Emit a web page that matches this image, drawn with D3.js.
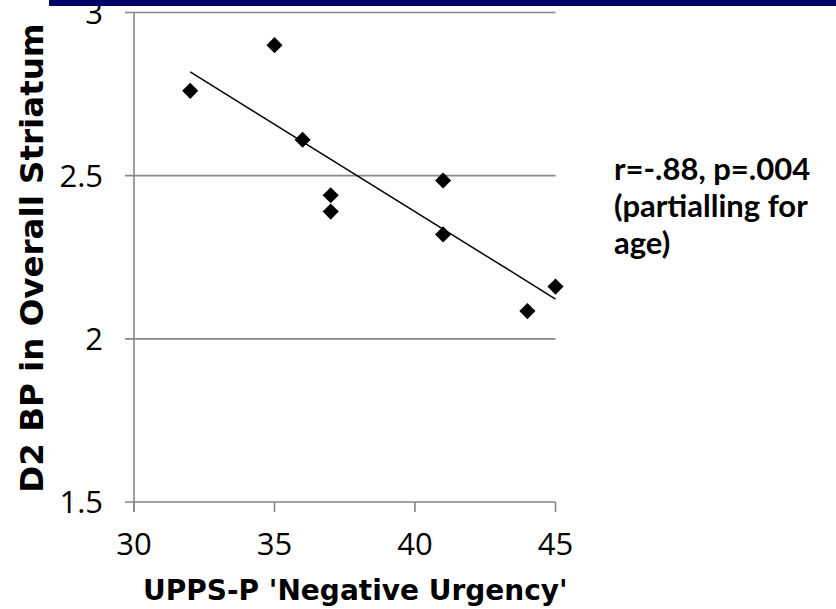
<!DOCTYPE html>
<html>
<head>
<meta charset="utf-8">
<script src="https://cdn.jsdelivr.net/npm/d3@7"></script>
<style>
  body { margin: 0; background: #fff; }
  svg { display: block; }
</style>
</head>
<body>
<div id="chart"></div>
<script>
var w = 836;
var h = 609;

// data
var urgency = [32, 35, 36, 37, 37, 41, 41, 44, 45];
var d2bp = [2.76, 2.90, 2.61, 2.44, 2.39, 2.485, 2.32, 2.085, 2.16];
var xTicks = [30, 35, 40, 45];
var yTicks = [1.5, 2, 2.5, 3];
var noteLines = ["r=-.88, p=.004", "(partialling for", "age)"];

// plot box (don't call it "top", that's window.top)
var plotLeft = 134, plotRight = 555.5, plotTop = 12.5, plotBottom = 502;

var x = d3.scaleLinear().domain([30, 45]).range([plotLeft, plotRight]);
var y = d3.scaleLinear().domain([1.5, 3]).range([plotBottom, plotTop]);

var svg = d3.select("#chart")
    .append("svg")
    .attr("width", w)
    .attr("height", h);

var gray = "#878787";

// horizontal gridlines (they stick out left as ticks)
svg.append("g")
    .selectAll("line")
    .data(yTicks)
    .join("line")
    .attr("x1", plotLeft - 9)
    .attr("x2", plotRight)
    .attr("y1", function(d) { return y(d); })
    .attr("y2", function(d) { return y(d); })
    .attr("stroke", gray)
    .attr("stroke-width", 1.6);

// x ticks below the axis
svg.append("g")
    .selectAll("line")
    .data(xTicks)
    .join("line")
    .attr("x1", function(d) { return x(d); })
    .attr("x2", function(d) { return x(d); })
    .attr("y1", plotBottom)
    .attr("y2", plotBottom + 10)
    .attr("stroke", gray)
    .attr("stroke-width", 1.6);

// y axis line
svg.append("line")
    .attr("x1", plotLeft).attr("x2", plotLeft)
    .attr("y1", plotTop).attr("y2", plotBottom + 10)
    .attr("stroke", gray)
    .attr("stroke-width", 1.6);

// tick labels
svg.append("g")
    .selectAll("text")
    .data(yTicks)
    .join("text")
    .attr("x", 103)
    .attr("y", function(d) { return y(d); })
    .attr("dy", "0.36em")
    .attr("text-anchor", "end")
    .style("font-family", "'Open Sans', sans-serif")
    .style("font-size", "31px")
    .attr("fill", "#000")
    .text(function(d) { return d; });

svg.append("g")
    .selectAll("text")
    .data(xTicks)
    .join("text")
    .attr("x", function(d) { return x(d); })
    .attr("y", 555)
    .attr("text-anchor", "middle")
    .style("font-family", "'Open Sans', sans-serif")
    .style("font-size", "31px")
    .attr("fill", "#000")
    .text(function(d) { return d; });

// least squares trend line
var mx = d3.mean(urgency), my = d3.mean(d2bp);
var sxy = d3.sum(urgency, function(d, i) { return (d - mx) * (d2bp[i] - my); });
var sxx = d3.sum(urgency, function(d) { return (d - mx) * (d - mx); });
var slope = sxy / sxx, icpt = my - slope * mx;
var ends = d3.extent(urgency);

svg.append("line")
    .attr("x1", x(ends[0]))
    .attr("y1", y(icpt + slope * ends[0]))
    .attr("x2", x(ends[1]))
    .attr("y2", y(icpt + slope * ends[1]))
    .attr("stroke", "#000")
    .attr("stroke-width", 1.5);

// diamond markers
var diamond = d3.symbol().type(d3.symbolSquare).size(130);
svg.append("g")
    .selectAll("path")
    .data(urgency)
    .join("path")
    .attr("d", diamond)
    .attr("transform", function(d, i) {
        return "translate(" + x(d) + "," + y(d2bp[i]) + ") rotate(45)";
    })
    .attr("fill", "#000");

// axis titles
svg.append("text")
    .attr("transform", "translate(43,258) rotate(-90)")
    .attr("text-anchor", "middle")
    .style("font-family", "'DejaVu Sans', sans-serif")
    .style("font-weight", "bold")
    .style("font-size", "32.5px")
    .text("D2 BP in Overall Striatum");

svg.append("text")
    .attr("x", 143)
    .attr("y", 600)
    .style("font-family", "'DejaVu Sans', sans-serif")
    .style("font-weight", "bold")
    .style("font-size", "28px")
    .text("UPPS-P 'Negative Urgency'");

// stats note
svg.append("g")
    .selectAll("text")
    .data(noteLines)
    .join("text")
    .attr("x", 614)
    .attr("y", function(d, i) { return 180 + i * 37; })
    .style("font-family", "Lato, sans-serif")
    .style("font-weight", "bold")
    .style("font-size", "31px")
    .text(function(d) { return d; });

// navy band at the very top (slide header edge)
svg.append("rect")
    .attr("x", 49)
    .attr("y", 0)
    .attr("width", w - 49)
    .attr("height", 6)
    .attr("fill", "#000066");
</script>
</body>
</html>
